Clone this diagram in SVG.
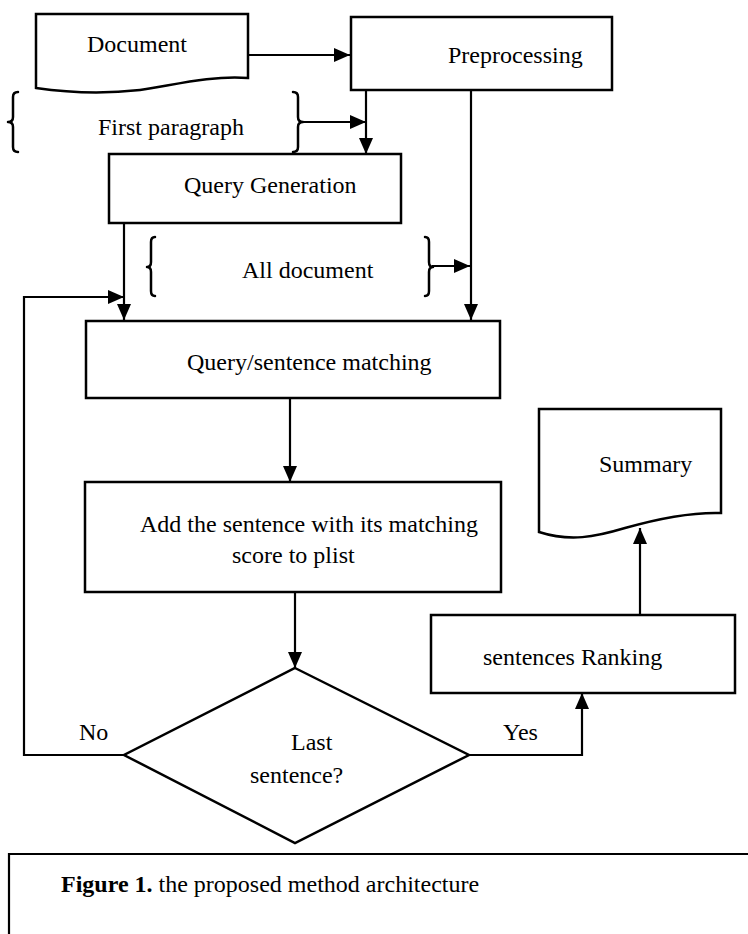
<svg xmlns="http://www.w3.org/2000/svg" width="748" height="934" viewBox="0 0 748 934">
<style>
.box{fill:#fff;stroke:#000;stroke-width:2.5}
.ln{fill:none;stroke:#000;stroke-width:2.2}
.br{fill:none;stroke:#000;stroke-width:2.5;stroke-linecap:round;stroke-linejoin:round}
text{font-family:"Liberation Serif","Times New Roman",serif;font-size:24px;fill:#000}
.b{font-weight:bold}
</style>
<defs>
<marker id="ah" markerUnits="userSpaceOnUse" markerWidth="16" markerHeight="14" refX="16" refY="7" orient="auto">
<path d="M0,0 L16,7 L0,14 Z" fill="#000"/>
</marker>
</defs>
<rect width="748" height="934" fill="#fff"/>
<g id="connectors">
<line class="ln" x1="248" y1="55" x2="350" y2="55" marker-end="url(#ah)"/>
<line class="ln" x1="303" y1="122" x2="366" y2="122" marker-end="url(#ah)"/>
<line class="ln" x1="366" y1="90" x2="366" y2="154" marker-end="url(#ah)"/>
<line class="ln" x1="471" y1="90" x2="471" y2="320" marker-end="url(#ah)"/>
<line class="ln" x1="432" y1="266" x2="470" y2="266" marker-end="url(#ah)"/>
<line class="ln" x1="124" y1="223" x2="124" y2="320" marker-end="url(#ah)"/>
<polyline class="ln" points="124,755 24,755 24,297 124,297" marker-end="url(#ah)"/>
<line class="ln" x1="290" y1="398" x2="290" y2="482" marker-end="url(#ah)"/>
<line class="ln" x1="295" y1="592" x2="295" y2="668" marker-end="url(#ah)"/>
<polyline class="ln" points="469,755 582,755 582,693" marker-end="url(#ah)"/>
<line class="ln" x1="640" y1="615" x2="640" y2="528" marker-end="url(#ah)"/>
</g>
<g id="document">
<path class="box" d="M36,14 L248,14 L248,78 C210,75 170,86 140,90 C105,94 70,93 36,88 Z"/>
<text x="87" y="52">Document</text>
</g>
<g id="preprocessing">
<rect class="box" x="351" y="17" width="261" height="73"/>
<text x="448" y="63">Preprocessing</text>
</g>
<g id="first-paragraph">
<path class="br" d="M18,92 Q13,92 13,97 L13,117 Q13,122 8,122 Q13,122 13,127 L13,147 Q13,152 18,152"/>
<path class="br" d="M293,92 Q298,92 298,97 L298,117 Q298,122 303,122 Q298,122 298,127 L298,147 Q298,152 293,152"/>
<text x="98" y="135">First paragraph</text>
</g>
<g id="query-generation">
<rect class="box" x="109" y="154" width="292" height="69"/>
<text x="184" y="193">Query Generation</text>
</g>
<g id="all-document">
<path class="br" d="M155,237 Q151,237 151,242 L151,262 Q151,267 147,267 Q151,267 151,272 L151,291 Q151,296 155,296"/>
<path class="br" d="M425,237 Q429,237 429,242 L429,262 Q429,267 433,267 Q429,267 429,272 L429,291 Q429,296 425,296"/>
<text x="242" y="278">All document</text>
</g>
<g id="query-sentence-matching">
<rect class="box" x="86" y="321" width="414" height="77"/>
<text x="187" y="370">Query/sentence matching</text>
</g>
<g id="add-sentence">
<rect class="box" x="85" y="482" width="416" height="110"/>
<text x="140" y="532">Add the sentence with its matching</text>
<text x="232" y="563">score to plist</text>
</g>
<g id="last-sentence">
<polygon class="box" points="295,668 469,755 295,843 124,755"/>
<text x="291" y="750">Last</text>
<text x="250" y="783">sentence?</text>
</g>
<g id="labels">
<text x="79" y="740">No</text>
<text x="503" y="740">Yes</text>
</g>
<g id="sentences-ranking">
<rect class="box" x="431" y="615" width="304" height="78"/>
<text x="483" y="665">sentences Ranking</text>
</g>
<g id="summary">
<path class="box" d="M539,409 L721,409 L721,513 C690,512 660,518 625,528 C595,537 570,542 539,532 Z"/>
<text x="599" y="472">Summary</text>
</g>
<g id="caption">
<path class="ln" d="M748,854 L9,854 L9,934" stroke-width="2.5"/>
<text x="61" y="892"><tspan class="b">Figure 1.</tspan> the proposed method architecture</text>
</g>
</svg>
